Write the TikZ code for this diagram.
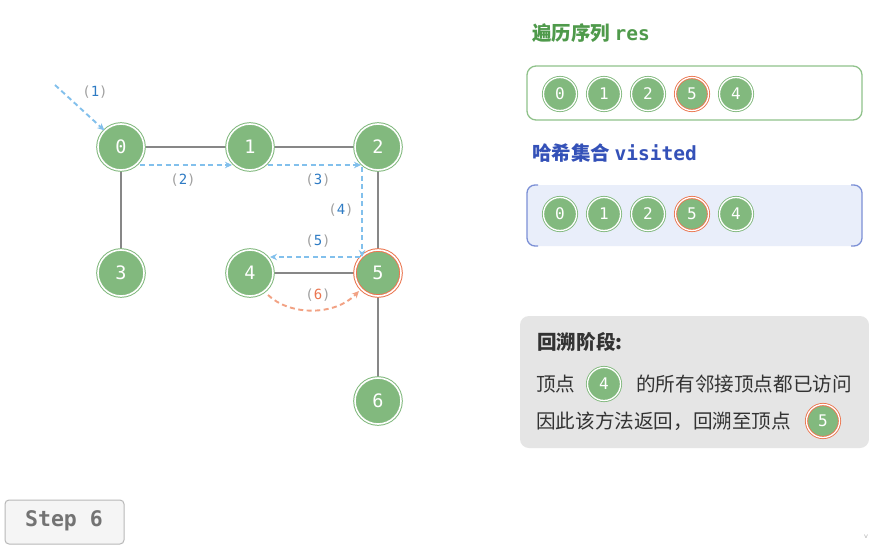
\documentclass[tikz,border=0pt]{standalone}
\usepackage{fontspec}
\setmainfont{Noto Sans CJK SC}
\setmonofont{DejaVu Sans Mono}
\newfontfamily\cjk{Noto Sans CJK SC}
\usetikzlibrary{arrows.meta}
\definecolor{ngreen}{HTML}{82B97E}
\definecolor{edgegray}{HTML}{878787}
\definecolor{arrblue}{HTML}{82C0EC}
\definecolor{lblblue}{HTML}{2E7BC4}
\definecolor{orng}{HTML}{EB7650}
\definecolor{salmon}{HTML}{F2A284}
\definecolor{titgreen}{HTML}{4F9A4B}
\definecolor{titblue}{HTML}{3451B8}
\definecolor{resborder}{HTML}{90C28B}
\definecolor{visfill}{HTML}{E9EEFA}
\definecolor{visborder}{HTML}{7C90D6}
\definecolor{panelgray}{HTML}{E5E5E5}
\definecolor{txtgray}{HTML}{A0A0A0}
\definecolor{bodytxt}{HTML}{333333}
\tikzset{
  vtx/.style={circle, minimum size=46pt, inner sep=0pt, fill=ngreen, draw=ngreen,
    double=white, double distance=1.6pt, line width=1pt, text=white,
    font=\ttfamily\fontsize{18.5}{18.5}\selectfont},
  vtxhot/.style={vtx, draw=orng},
  svtx/.style={circle, minimum size=33pt, inner sep=0pt, fill=ngreen, draw=ngreen,
    double=white, double distance=1.3pt, line width=0.9pt, text=white,
    font=\ttfamily\fontsize{16}{16}\selectfont},
  svtxhot/.style={svtx, draw=orng},
  edge/.style={draw=edgegray, line width=2.8pt},
  trav/.style={draw=arrblue, line width=1.9pt, dash pattern=on 5pt off 3.5pt,
    -{Stealth[length=7pt,width=6.5pt]}},
  back/.style={draw=salmon, line width=1.9pt, dash pattern=on 5pt off 3.5pt,
    -{Stealth[length=7pt,width=6.5pt]}},
  lbl/.style={font=\ttfamily\fontsize{14}{14}\selectfont, text=txtgray, inner sep=0pt},
  body/.style={font=\cjk\fontsize{19.6}{19.6}\selectfont, text=bodytxt, inner sep=0pt, anchor=west},
}
\begin{document}
\begin{tikzpicture}[x=1pt,y=-1pt]
\useasboundingbox[fill=white] (0,0) rectangle (869,551);
% edges
\coordinate (p0) at (121,147);
\coordinate (p1) at (250,147);
\coordinate (p2) at (378,147);
\coordinate (p3) at (121,273);
\coordinate (p4) at (250,273);
\coordinate (p5) at (378,273);
\coordinate (p6) at (378,401);
\draw[edge] (p0) -- (p1);
\draw[edge] (p1) -- (p2);
\draw[edge] (p0) -- (p3);
\draw[edge] (p2) -- (p5);
\draw[edge] (p4) -- (p5);
\draw[edge] (p5) -- (p6);
% nodes
\node[vtx] (n0) at (p0) {0};
\node[vtx] (n1) at (p1) {1};
\node[vtx] (n2) at (p2) {2};
\node[vtx] (n3) at (p3) {3};
\node[vtx] (n4) at (p4) {4};
\node[vtxhot] (n5) at (p5) {5};
\node[vtx] (n6) at (p6) {6};
% traversal arrows
\coordinate (s1) at (55,85);
\coordinate (a2s) at (140,165);
\coordinate (a2e) at (232,165);
\coordinate (a3s) at (268,165);
\coordinate (a3e) at (361,165);
\coordinate (a4s) at (362,167);
\coordinate (a4e) at (362,257);
\coordinate (a5s) at (360,257);
\coordinate (a5e) at (270,257);
\coordinate (a6s) at (268,295);
\coordinate (a6e) at (359,291);
\draw[trav] (s1) -- (n0.135);
\draw[trav] (a2s) -- (a2e);
\draw[trav] (a3s) -- (a3e);
\draw[trav] (a4s) -- (a4e);
\draw[trav] (a5s) -- (a5e);
\draw[back] (a6s) .. controls (290,316) and (335,316) .. (a6e);
% labels
\node[lbl] (l1) at (95,92) {(\textcolor{lblblue}{1})};
\node[lbl] (l2) at (183,180) {(\textcolor{lblblue}{2})};
\node[lbl] (l3) at (318,180) {(\textcolor{lblblue}{3})};
\node[lbl] (l4) at (341,210) {(\textcolor{lblblue}{4})};
\node[lbl] (l5) at (318,241) {(\textcolor{lblblue}{5})};
\node[lbl] (l6) at (318,295) {(\textcolor{orng}{6})};
% res
\node[anchor=west, inner sep=0pt, text=titgreen, font=\fontsize{19.5}{19.5}\selectfont\bfseries] (tres) at (532,33) {遍历序列 \texttt{\bfseries res}};
\draw[draw=resborder, line width=1.3pt, rounded corners=9pt, fill=white] (527,66) rectangle (862,120);
\foreach \v/\x/\s in {0/560/svtx,1/604/svtx,2/648/svtx,5/692/svtxhot,4/736/svtx}
  \node[\s] (r\v) at (\x,94) {\v};
% visited
\node[anchor=west, inner sep=0pt, text=titblue, font=\fontsize{19.5}{19.5}\selectfont\bfseries] (tvis) at (532,153) {哈希集合 \texttt{\bfseries visited}};
\fill[visfill, rounded corners=9pt] (527,185) rectangle (862,246);
\draw[visborder, line width=1.3pt, rounded corners=8pt] (538,185) -- (527,185) -- (527,246) -- (538,246);
\draw[visborder, line width=1.3pt, rounded corners=8pt] (851,185) -- (862,185) -- (862,246) -- (851,246);
\foreach \v/\x/\s in {0/560/svtx,1/604/svtx,2/648/svtx,5/692/svtxhot,4/736/svtx}
  \node[\s] (v\v) at (\x,214) {\v};
% panel
\fill[panelgray, rounded corners=9pt] (520,316) rectangle (869,448);
\node[body, font=\cjk\fontsize{19.6}{19.6}\selectfont\bfseries] (ph) at (537,342) {回溯阶段:};
\node[body] (t1) at (536,384) {顶点};
\node[svtx] (c4) at (604,384) {4};
\node[body] (t2) at (636,384) {的所有邻接顶点都已访问};
\node[body] (t3) at (536,421) {因此该方法返回，回溯至顶点};
\node[svtxhot] (c5) at (823,421) {5};
% step button
\draw[fill=black!4, draw=black!28, line width=1pt, rounded corners=4pt] (5,500) rectangle (124,544);
\node[font=\ttfamily\bfseries\fontsize{21.5}{21.5}\selectfont, text=black!55] (step) at (64,521) {Step 6};
\node[font=\sffamily\fontsize{8}{8}\selectfont, text=black!30, inner sep=0pt] (wm) at (866,537) {v};
\end{tikzpicture}
\end{document}
